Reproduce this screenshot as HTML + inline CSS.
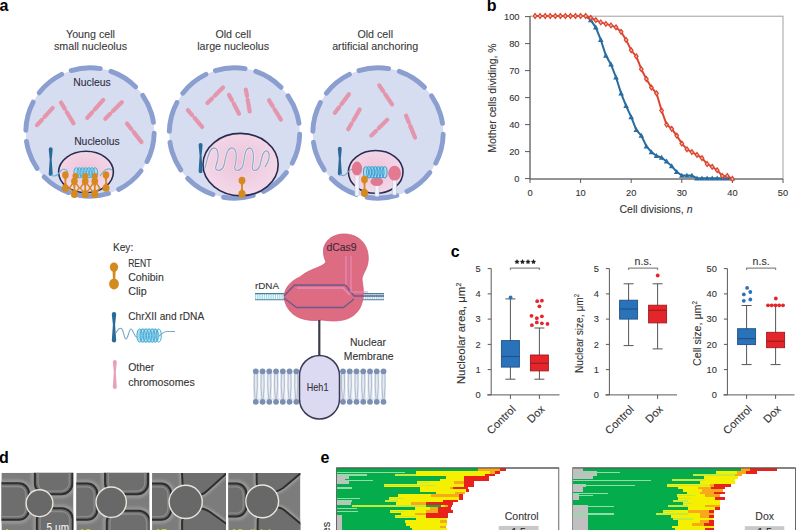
<!DOCTYPE html>
<html><head><meta charset="utf-8"><style>
html,body{margin:0;padding:0;background:#fff;width:800px;height:530px;overflow:hidden}
svg{display:block}
text{font-family:"Liberation Sans",sans-serif}
</style></head><body>
<svg width="800" height="530" viewBox="0 0 800 530">
<rect width="800" height="530" fill="#fff"/>
<text x="-0.6" y="10.6" font-size="16" fill="#000" text-anchor="start" font-weight="bold" >a</text>
<text x="486.8" y="10.6" font-size="16" fill="#000" text-anchor="start" font-weight="bold" >b</text>
<text x="450.8" y="256.9" font-size="16" fill="#000" text-anchor="start" font-weight="bold" >c</text>
<text x="-1" y="463.2" font-size="16" fill="#000" text-anchor="start" font-weight="bold" >d</text>
<text x="320.6" y="463.3" font-size="16" fill="#000" text-anchor="start" font-weight="bold" >e</text>
<defs><radialGradient id="nuc" cx="50%" cy="45%" r="55%"><stop offset="0" stop-color="#eec3da"/><stop offset="1" stop-color="#f3d9ea"/></radialGradient></defs>
<text x="90.5" y="37.5" font-size="10.7" fill="#3a3a3a" stroke="#3a3a3a" stroke-width="0.1" text-anchor="middle" font-weight="normal" >Young cell</text>
<text x="90.5" y="49.8" font-size="10.7" fill="#3a3a3a" stroke="#3a3a3a" stroke-width="0.1" text-anchor="middle" font-weight="normal" >small nucleolus</text>
<text x="233.2" y="37.5" font-size="10.7" fill="#3a3a3a" stroke="#3a3a3a" stroke-width="0.1" text-anchor="middle" font-weight="normal" >Old cell</text>
<text x="233.2" y="49.8" font-size="10.7" fill="#3a3a3a" stroke="#3a3a3a" stroke-width="0.1" text-anchor="middle" font-weight="normal" >large nucleolus</text>
<text x="375.2" y="37.5" font-size="10.7" fill="#3a3a3a" stroke="#3a3a3a" stroke-width="0.1" text-anchor="middle" font-weight="normal" >Old cell</text>
<text x="375.2" y="49.8" font-size="10.7" fill="#3a3a3a" stroke="#3a3a3a" stroke-width="0.1" text-anchor="middle" font-weight="normal" >artificial anchoring</text>
<circle cx="90" cy="132" r="64.2" fill="#d7ddf1"/>
<circle cx="90" cy="132" r="64.2" fill="none" stroke="#8a9ecf" stroke-width="4.9" stroke-linecap="round" stroke-dasharray="29.34 11.00" transform="rotate(-107 90 132)"/>
<circle cx="234.5" cy="133" r="65.2" fill="#d7ddf1"/>
<circle cx="234.5" cy="133" r="65.2" fill="none" stroke="#8a9ecf" stroke-width="4.9" stroke-linecap="round" stroke-dasharray="29.97 11.00" transform="rotate(-107 234.5 133)"/>
<circle cx="378" cy="133" r="65.2" fill="#d7ddf1"/>
<circle cx="378" cy="133" r="65.2" fill="none" stroke="#8a9ecf" stroke-width="4.9" stroke-linecap="round" stroke-dasharray="29.97 11.00" transform="rotate(-107 378 133)"/>
<path d="M2.1 -2.1 L9.813083128715594 -2.1 L11.013083128715593 -0.9450000000000001 L12.213083128715592 -2.1 L25.432707821788977 -2.1 A2.1 2.1 0 0 1 25.432707821788977 2.1 L12.213083128715592 2.1 L11.013083128715593 0.9450000000000001 L9.813083128715594 2.1 L2.1 2.1 A2.1 2.1 0 0 1 2.1 -2.1 Z" fill="#e496ac" transform="translate(35.6 126.7) rotate(-47.50)"/>
<path d="M2.1 -2.1 L10.194384581889448 -2.1 L11.394384581889447 -0.9450000000000001 L12.594384581889447 -2.1 L26.385961454723613 -2.1 A2.1 2.1 0 0 1 26.385961454723613 2.1 L12.594384581889447 2.1 L11.394384581889447 0.9450000000000001 L10.194384581889448 2.1 L2.1 2.1 A2.1 2.1 0 0 1 2.1 -2.1 Z" fill="#e496ac" transform="translate(59.9 100.7) rotate(58.93)"/>
<path d="M2.1 -2.1 L10.077588394687936 -2.1 L11.277588394687935 -0.9450000000000001 L12.477588394687935 -2.1 L26.093970986719835 -2.1 A2.1 2.1 0 0 1 26.093970986719835 2.1 L12.477588394687935 2.1 L11.277588394687935 0.9450000000000001 L10.077588394687936 2.1 L2.1 2.1 A2.1 2.1 0 0 1 2.1 -2.1 Z" fill="#e496ac" transform="translate(85.9 119.4) rotate(-48.45)"/>
<path d="M2.1 -2.1 L9.830865786510142 -2.1 L11.030865786510141 -0.9450000000000001 L12.23086578651014 -2.1 L25.47716446627535 -2.1 A2.1 2.1 0 0 1 25.47716446627535 2.1 L12.23086578651014 2.1 L11.030865786510141 0.9450000000000001 L9.830865786510142 2.1 L2.1 2.1 A2.1 2.1 0 0 1 2.1 -2.1 Z" fill="#e496ac" transform="translate(103.8 120.2) rotate(-45.00)"/>
<path d="M2.1 -2.1 L9.914099153777608 -2.1 L11.114099153777607 -0.9450000000000001 L12.314099153777606 -2.1 L25.685247884444014 -2.1 A2.1 2.1 0 0 1 25.685247884444014 2.1 L12.314099153777606 2.1 L11.114099153777607 0.9450000000000001 L9.914099153777608 2.1 L2.1 2.1 A2.1 2.1 0 0 1 2.1 -2.1 Z" fill="#e496ac" transform="translate(125.7 121.9) rotate(52.02)"/>
<text x="92" y="85.9" font-size="10.6" fill="#2e2e3e" stroke="#2e2e3e" stroke-width="0.1" text-anchor="middle" font-weight="normal"  textLength="37.5" lengthAdjust="spacingAndGlyphs">Nucleus</text>
<text x="96.9" y="144.7" font-size="10.6" fill="#2e2e3e" stroke="#2e2e3e" stroke-width="0.1" text-anchor="middle" font-weight="normal"  textLength="45.5" lengthAdjust="spacingAndGlyphs">Nucleolus</text>
<ellipse cx="86" cy="172" rx="27.4" ry="20.8" fill="url(#nuc)" stroke="#2b2b4f" stroke-width="1.6"/>
<path d="M48.7 149.3 Q48.7 147.3 50.7 147.3 Q52.7 147.3 52.7 149.3 L51.7 159.39600000000002 L52.7 174.1 Q52.7 176.1 50.7 176.1 Q48.7 176.1 48.7 174.1 L49.7 159.39600000000002 Z" fill="#2a6a98"/>
<path d="M50.7 175 Q55 178 60 172 Q64 166 68 172" fill="none" stroke="#6ab8dc" stroke-width="1.2"/>
<rect x="74" y="167.5" width="23" height="10.5" rx="4" fill="#a6def0"/>
<ellipse cx="76.5" cy="172.8" rx="2.5" ry="5" fill="none" stroke="#48a9d4" stroke-width="1"/>
<ellipse cx="79.6" cy="172.8" rx="2.5" ry="5" fill="none" stroke="#48a9d4" stroke-width="1"/>
<ellipse cx="82.7" cy="172.8" rx="2.5" ry="5" fill="none" stroke="#48a9d4" stroke-width="1"/>
<ellipse cx="85.8" cy="172.8" rx="2.5" ry="5" fill="none" stroke="#48a9d4" stroke-width="1"/>
<ellipse cx="88.9" cy="172.8" rx="2.5" ry="5" fill="none" stroke="#48a9d4" stroke-width="1"/>
<ellipse cx="92.0" cy="172.8" rx="2.5" ry="5" fill="none" stroke="#48a9d4" stroke-width="1"/>
<ellipse cx="95.1" cy="172.8" rx="2.5" ry="5" fill="none" stroke="#48a9d4" stroke-width="1"/>
<path d="M100 176 Q106 166 112 170" fill="none" stroke="#6ab8dc" stroke-width="1.2"/>
<path d="M74.4 181 L69.4 188 L74.4 194 L79.4 188 Z" fill="none" stroke="#d58a1f" stroke-width="1.4"/>
<path d="M72.80000000000001 181.2 L73.60000000000001 187.7 L72.80000000000001 194.2 L76.0 194.2 L75.2 187.7 L76.0 181.2 Z" fill="#d58a1f"/>
<ellipse cx="74.4" cy="181.2" rx="3.3" ry="3.63" fill="#d58a1f"/>
<ellipse cx="74.4" cy="194.2" rx="3.5" ry="3.85" fill="#d58a1f"/>
<path d="M85.2 181 L80.2 188 L85.2 194 L90.2 188 Z" fill="none" stroke="#d58a1f" stroke-width="1.4"/>
<path d="M83.60000000000001 181.2 L84.4 187.7 L83.60000000000001 194.2 L86.8 194.2 L86.0 187.7 L86.8 181.2 Z" fill="#d58a1f"/>
<ellipse cx="85.2" cy="181.2" rx="3.3" ry="3.63" fill="#d58a1f"/>
<ellipse cx="85.2" cy="194.2" rx="3.5" ry="3.85" fill="#d58a1f"/>
<path d="M94.8 181 L89.8 188 L94.8 194 L99.8 188 Z" fill="none" stroke="#d58a1f" stroke-width="1.4"/>
<path d="M93.2 181.2 L94.0 187.7 L93.2 194.2 L96.39999999999999 194.2 L95.6 187.7 L96.39999999999999 181.2 Z" fill="#d58a1f"/>
<ellipse cx="94.8" cy="181.2" rx="3.3" ry="3.63" fill="#d58a1f"/>
<ellipse cx="94.8" cy="194.2" rx="3.5" ry="3.85" fill="#d58a1f"/>
<path d="M63.800000000000004 175 L64.60000000000001 181.5 L63.800000000000004 188 L67.0 188 L66.2 181.5 L67.0 175 Z" fill="#d58a1f"/>
<ellipse cx="65.4" cy="175" rx="3.3" ry="3.63" fill="#d58a1f"/>
<ellipse cx="65.4" cy="188" rx="3.5" ry="3.85" fill="#d58a1f"/>
<path d="M104.4 175 L105.2 181.5 L104.4 188 L107.6 188 L106.8 181.5 L107.6 175 Z" fill="#d58a1f"/>
<ellipse cx="106" cy="175" rx="3.3" ry="3.63" fill="#d58a1f"/>
<ellipse cx="106" cy="188" rx="3.5" ry="3.85" fill="#d58a1f"/>
<circle cx="75.5" cy="176" r="3" fill="#d58a1f"/>
<circle cx="85.2" cy="176" r="3" fill="#d58a1f"/>
<circle cx="94.8" cy="176" r="3" fill="#d58a1f"/>
<path d="M2.1 -2.1 L9.299523798725351 -2.1 L10.49952379872535 -0.9450000000000001 L11.69952379872535 -2.1 L24.148809496813374 -2.1 A2.1 2.1 0 0 1 24.148809496813374 2.1 L11.69952379872535 2.1 L10.49952379872535 0.9450000000000001 L9.299523798725351 2.1 L2.1 2.1 A2.1 2.1 0 0 1 2.1 -2.1 Z" fill="#e496ac" transform="translate(186.5 108.5) rotate(49.64)"/>
<path d="M2.1 -2.1 L9.265180361560905 -2.1 L10.465180361560904 -0.9450000000000001 L11.665180361560903 -2.1 L24.06295090390226 -2.1 A2.1 2.1 0 0 1 24.06295090390226 2.1 L11.665180361560903 2.1 L10.465180361560904 0.9450000000000001 L9.265180361560905 2.1 L2.1 2.1 A2.1 2.1 0 0 1 2.1 -2.1 Z" fill="#e496ac" transform="translate(206 104.5) rotate(-45.00)"/>
<path d="M2.1 -2.1 L9.000000000000002 -2.1 L10.200000000000001 -0.9450000000000001 L11.4 -2.1 L23.4 -2.1 A2.1 2.1 0 0 1 23.4 2.1 L11.4 2.1 L10.200000000000001 0.9450000000000001 L9.000000000000002 2.1 L2.1 2.1 A2.1 2.1 0 0 1 2.1 -2.1 Z" fill="#e496ac" transform="translate(228 93) rotate(61.93)"/>
<path d="M2.1 -2.1 L9.354619841567011 -2.1 L10.55461984156701 -0.9450000000000001 L11.75461984156701 -2.1 L24.28654960391752 -2.1 A2.1 2.1 0 0 1 24.28654960391752 2.1 L11.75461984156701 2.1 L10.55461984156701 0.9450000000000001 L9.354619841567011 2.1 L2.1 2.1 A2.1 2.1 0 0 1 2.1 -2.1 Z" fill="#e496ac" transform="translate(245.5 87.5) rotate(80.18)"/>
<path d="M2.1 -2.1 L9.57032961426901 -2.1 L10.77032961426901 -0.9450000000000001 L11.970329614269009 -2.1 L24.825824035672518 -2.1 A2.1 2.1 0 0 1 24.825824035672518 2.1 L11.970329614269009 2.1 L10.77032961426901 0.9450000000000001 L9.57032961426901 2.1 L2.1 2.1 A2.1 2.1 0 0 1 2.1 -2.1 Z" fill="#e496ac" transform="translate(268 98.5) rotate(58.67)"/>
<ellipse cx="240.6" cy="164.6" rx="37.6" ry="31.2" fill="url(#nuc)" stroke="#2b2b4f" stroke-width="1.6"/>
<path d="M198.6 145.0 Q198.6 143 200.6 143 Q202.6 143 202.6 145.0 L201.6 155.726 L202.6 171.3 Q202.6 173.3 200.6 173.3 Q198.6 173.3 198.6 171.3 L199.6 155.726 Z" fill="#2a6a98"/>
<path d="M205 168 C207 160, 209 148, 214 148 C219 148, 219 158, 216 166 C214 172, 222 172, 224 165 C226 156, 227 148, 232 148 C237 148, 237 158, 235 166 C233 172, 241 172, 243 165 C245 156, 245 148, 249.5 148 C254 148, 254 158, 252.5 166 C251 172, 258 172, 260 165 C262 157, 263 150, 267 151 C271 153, 269 162, 265 167" fill="none" stroke="#f6eef6" stroke-width="2.4"/>
<path d="M205 168 C207 160, 209 148, 214 148 C219 148, 219 158, 216 166 C214 172, 222 172, 224 165 C226 156, 227 148, 232 148 C237 148, 237 158, 235 166 C233 172, 241 172, 243 165 C245 156, 245 148, 249.5 148 C254 148, 254 158, 252.5 166 C251 172, 258 172, 260 165 C262 157, 263 150, 267 151 C271 153, 269 162, 265 167" fill="none" stroke="#95a8c8" stroke-width="1.3"/>
<path d="M240.4 180.5 L241.2 187.25 L240.4 194 L243.6 194 L242.8 187.25 L243.6 180.5 Z" fill="#d58a1f"/>
<ellipse cx="242" cy="180.5" rx="3.4" ry="3.74" fill="#d58a1f"/>
<ellipse cx="242" cy="194" rx="3.6" ry="3.96" fill="#d58a1f"/>
<path d="M2.1 -2.1 L9.792142648273806 -2.1 L10.992142648273806 -0.9450000000000001 L12.192142648273805 -2.1 L25.380356620684513 -2.1 A2.1 2.1 0 0 1 25.380356620684513 2.1 L12.192142648273805 2.1 L10.992142648273806 0.9450000000000001 L9.792142648273806 2.1 L2.1 2.1 A2.1 2.1 0 0 1 2.1 -2.1 Z" fill="#e496ac" transform="translate(333.6 114.5) rotate(-52.84)"/>
<path d="M2.1 -2.1 L9.605998334258615 -2.1 L10.805998334258614 -0.9450000000000001 L12.005998334258614 -2.1 L24.914995835646533 -2.1 A2.1 2.1 0 0 1 24.914995835646533 2.1 L12.005998334258614 2.1 L10.805998334258614 0.9450000000000001 L9.605998334258615 2.1 L2.1 2.1 A2.1 2.1 0 0 1 2.1 -2.1 Z" fill="#e496ac" transform="translate(347.2 131.1) rotate(-60.02)"/>
<path d="M2.1 -2.1 L9.672129506219097 -2.1 L10.872129506219096 -0.9450000000000001 L12.072129506219095 -2.1 L25.08032376554774 -2.1 A2.1 2.1 0 0 1 25.08032376554774 2.1 L12.072129506219095 2.1 L10.872129506219096 0.9450000000000001 L9.672129506219097 2.1 L2.1 2.1 A2.1 2.1 0 0 1 2.1 -2.1 Z" fill="#e496ac" transform="translate(378.1 83.6) rotate(56.25)"/>
<path d="M2.1 -2.1 L9.463207772523232 -2.1 L10.663207772523231 -0.9450000000000001 L11.86320777252323 -2.1 L24.558019431308075 -2.1 A2.1 2.1 0 0 1 24.558019431308075 2.1 L11.86320777252323 2.1 L10.663207772523231 0.9450000000000001 L9.463207772523232 2.1 L2.1 2.1 A2.1 2.1 0 0 1 2.1 -2.1 Z" fill="#e496ac" transform="translate(369.8 137.1) rotate(-44.85)"/>
<path d="M2.1 -2.1 L9.867863389109937 -2.1 L11.067863389109936 -0.9450000000000001 L12.267863389109936 -2.1 L25.569658472774837 -2.1 A2.1 2.1 0 0 1 25.569658472774837 2.1 L12.267863389109936 2.1 L11.067863389109936 0.9450000000000001 L9.867863389109937 2.1 L2.1 2.1 A2.1 2.1 0 0 1 2.1 -2.1 Z" fill="#e496ac" transform="translate(405.3 113.8) rotate(67.70)"/>
<ellipse cx="375.7" cy="171.9" rx="27.3" ry="21.4" fill="url(#nuc)" stroke="#2b2b4f" stroke-width="1.6"/>
<path d="M337.8 148.7 Q337.8 146.7 339.8 146.7 Q341.8 146.7 341.8 148.7 L340.8 158.838 L341.8 173.6 Q341.8 175.6 339.8 175.6 Q337.8 175.6 337.8 173.6 L338.8 158.838 Z" fill="#2a6a98"/>
<path d="M340 174 Q344 178 348 172 Q352 166 358 174" fill="none" stroke="#78a8c4" stroke-width="1.1"/>
<rect x="355" y="174" width="4" height="22" rx="1.2" fill="#f2f2fa" stroke="#c0c6dc" stroke-width="0.6"/>
<rect x="375" y="184" width="4" height="12.5" rx="1.2" fill="#f2f2fa" stroke="#c0c6dc" stroke-width="0.6"/>
<rect x="392.5" y="178" width="4" height="17" rx="1.2" fill="#f2f2fa" stroke="#c0c6dc" stroke-width="0.6"/>
<ellipse cx="357" cy="168.6" rx="5.2" ry="7" fill="#e07890"/>
<ellipse cx="394.6" cy="173.2" rx="6.4" ry="7.4" fill="#e27a92"/>
<ellipse cx="376.8" cy="181.8" rx="6.4" ry="4.2" fill="#e07890"/>
<rect x="363.5" y="166.5" width="23" height="11.5" rx="4.5" fill="#a6def0"/>
<ellipse cx="366.0" cy="172.3" rx="2.5" ry="5.6" fill="none" stroke="#3e9fd2" stroke-width="1.05"/>
<ellipse cx="369.1" cy="172.3" rx="2.5" ry="5.6" fill="none" stroke="#3e9fd2" stroke-width="1.05"/>
<ellipse cx="372.2" cy="172.3" rx="2.5" ry="5.6" fill="none" stroke="#3e9fd2" stroke-width="1.05"/>
<ellipse cx="375.3" cy="172.3" rx="2.5" ry="5.6" fill="none" stroke="#3e9fd2" stroke-width="1.05"/>
<ellipse cx="378.4" cy="172.3" rx="2.5" ry="5.6" fill="none" stroke="#3e9fd2" stroke-width="1.05"/>
<ellipse cx="381.5" cy="172.3" rx="2.5" ry="5.6" fill="none" stroke="#3e9fd2" stroke-width="1.05"/>
<ellipse cx="384.6" cy="172.3" rx="2.5" ry="5.6" fill="none" stroke="#3e9fd2" stroke-width="1.05"/>
<path d="M362.9 179.5 L363.7 186.25 L362.9 193 L366.1 193 L365.3 186.25 L366.1 179.5 Z" fill="#d58a1f"/>
<ellipse cx="364.5" cy="179.5" rx="3.4" ry="3.74" fill="#d58a1f"/>
<ellipse cx="364.5" cy="193" rx="3.6" ry="3.96" fill="#d58a1f"/>
<text x="112.9" y="251" font-size="10.2" fill="#333" stroke="#333" stroke-width="0.1" text-anchor="start" font-weight="normal" >Key:</text>
<path d="M112.6 271 L112.9 279 L115.3 279 L115.6 271 Z" fill="#d58a1f"/>
<ellipse cx="114" cy="267.2" rx="4.1" ry="4.8" fill="#d58a1f"/>
<ellipse cx="114" cy="283.9" rx="4.9" ry="5.5" fill="#d58a1f"/>
<text x="128.2" y="267.1" font-size="10.2" fill="#333" stroke="#333" stroke-width="0.1" text-anchor="start" font-weight="normal"  textLength="23.3" lengthAdjust="spacingAndGlyphs">RENT</text>
<text x="128.2" y="280.8" font-size="10.2" fill="#333" stroke="#333" stroke-width="0.1" text-anchor="start" font-weight="normal"  textLength="35.6" lengthAdjust="spacingAndGlyphs">Cohibin</text>
<text x="128.2" y="294.5" font-size="10.2" fill="#333" stroke="#333" stroke-width="0.1" text-anchor="start" font-weight="normal"  textLength="18.4" lengthAdjust="spacingAndGlyphs">Clip</text>
<text x="128.2" y="319.5" font-size="10.2" fill="#333" stroke="#333" stroke-width="0.1" text-anchor="start" font-weight="normal"  textLength="76" lengthAdjust="spacingAndGlyphs">ChrXII and rDNA</text>
<path d="M111.8 314.2 Q111.8 312 114 312 Q116.2 312 116.2 314.2 L115.1 324.81 L116.2 340.3 Q116.2 342.5 114 342.5 Q111.8 342.5 111.8 340.3 L112.9 324.81 Z" fill="#2a6a98"/>
<path d="M116 333 C118 329, 120 327, 122 329 C124 332, 124 339, 126 339 C128 339, 129 329, 131 329 C133 329, 134 337, 137 337" fill="none" stroke="#78a8c4" stroke-width="1.1"/>
<rect x="137" y="328.5" width="22.5" height="14" rx="5" fill="#a6def0"/>
<ellipse cx="139.5" cy="335.6" rx="2.6" ry="6.6" fill="none" stroke="#48a9d4" stroke-width="1"/>
<ellipse cx="142.7" cy="335.6" rx="2.6" ry="6.6" fill="none" stroke="#48a9d4" stroke-width="1"/>
<ellipse cx="145.9" cy="335.6" rx="2.6" ry="6.6" fill="none" stroke="#48a9d4" stroke-width="1"/>
<ellipse cx="149.1" cy="335.6" rx="2.6" ry="6.6" fill="none" stroke="#48a9d4" stroke-width="1"/>
<ellipse cx="152.3" cy="335.6" rx="2.6" ry="6.6" fill="none" stroke="#48a9d4" stroke-width="1"/>
<ellipse cx="155.5" cy="335.6" rx="2.6" ry="6.6" fill="none" stroke="#48a9d4" stroke-width="1"/>
<ellipse cx="158.7" cy="335.6" rx="2.6" ry="6.6" fill="none" stroke="#48a9d4" stroke-width="1"/>
<path d="M159 336 C162 334, 163 331.5, 167 331.5 L175 331.5" fill="none" stroke="#78a8c4" stroke-width="1.1"/>
<path d="M112.8 362.0 Q112.8 360 114.8 360 Q116.8 360 116.8 362.0 L115.8 372.18 L116.8 387.0 Q116.8 389 114.8 389 Q112.8 389 112.8 387.0 L113.8 372.18 Z" fill="#e8a2b7"/>
<text x="128.2" y="371.4" font-size="10.2" fill="#333" stroke="#333" stroke-width="0.1" text-anchor="start" font-weight="normal"  textLength="26" lengthAdjust="spacingAndGlyphs">Other</text>
<text x="128.2" y="385.5" font-size="10.2" fill="#333" stroke="#333" stroke-width="0.1" text-anchor="start" font-weight="normal"  textLength="66.5" lengthAdjust="spacingAndGlyphs">chromosomes</text>
<line x1="255" y1="296.7" x2="384" y2="296.7" stroke="#a2dbea" stroke-width="5.5" stroke-dasharray="1.3 0.9"/>
<line x1="255" y1="293.6" x2="384" y2="293.6" stroke="#4d7f92" stroke-width="1.1"/>
<line x1="255" y1="299.8" x2="384" y2="299.8" stroke="#4d7f92" stroke-width="1.1"/>
<text x="255" y="289" font-size="9.8" fill="#333" stroke="#333" stroke-width="0.1" text-anchor="start" font-weight="normal" >rDNA</text>
<path d="M300 277 C310 268, 322 268, 326 262 C318 245, 330 234, 344 234 C360 234, 370 246, 368 262 C367 270, 362 274, 362 280 C364 290, 364 300, 360 308 C352 322, 336 322, 322 320 C306 322, 290 318, 285 302 C282 292, 288 282, 300 277 Z" fill="#dd6b82" stroke="#d15c76" stroke-width="0.8"/>
<path d="M284 296 L294.5 285 L345.5 285 L354 296 L384 296" fill="none" stroke="#6c5a8c" stroke-width="1.4"/>
<path d="M297 288 L343 288 L350 295" fill="none" stroke="#e58fc0" stroke-width="1.4"/>
<path d="M284 298 L296.5 307.5 L343.5 307.5 L354 299" fill="none" stroke="#6c5a8c" stroke-width="1.4"/>
<path d="M346 256 L346 285 M351 256 L351 292 L368 292" fill="none" stroke="#e58fc0" stroke-width="1.1"/>
<text x="341.4" y="251" font-size="10.4" fill="#3b2a36" stroke="#3b2a36" stroke-width="0.1" text-anchor="middle" font-weight="normal" >dCas9</text>
<line x1="319.3" y1="320" x2="319.3" y2="356" stroke="#3b3b4a" stroke-width="2.2"/>
<rect x="253" y="373" width="46" height="27" fill="#e4eaf2"/>
<rect x="340" y="373" width="46" height="27" fill="#e4eaf2"/>
<path d="M254.5 373 L254.20000000000002 386 L255.20000000000002 399 M257.1 373 L257.40000000000003 386 L256.40000000000003 399" fill="none" stroke="#aab6c8" stroke-width="0.9"/>
<line x1="259.2" y1="374" x2="259.2" y2="398" stroke="#ffffff" stroke-width="1.2"/>
<circle cx="255.8" cy="371.3" r="2.9" fill="#7a8fb1"/>
<circle cx="255.8" cy="401.8" r="2.9" fill="#7a8fb1"/>
<path d="M261.25 373 L260.95 386 L261.95 399 M263.85 373 L264.15000000000003 386 L263.15000000000003 399" fill="none" stroke="#aab6c8" stroke-width="0.9"/>
<line x1="265.95" y1="374" x2="265.95" y2="398" stroke="#ffffff" stroke-width="1.2"/>
<circle cx="262.55" cy="371.3" r="2.9" fill="#7a8fb1"/>
<circle cx="262.55" cy="401.8" r="2.9" fill="#7a8fb1"/>
<path d="M268.0 373 L267.7 386 L268.7 399 M270.6 373 L270.90000000000003 386 L269.90000000000003 399" fill="none" stroke="#aab6c8" stroke-width="0.9"/>
<line x1="272.7" y1="374" x2="272.7" y2="398" stroke="#ffffff" stroke-width="1.2"/>
<circle cx="269.3" cy="371.3" r="2.9" fill="#7a8fb1"/>
<circle cx="269.3" cy="401.8" r="2.9" fill="#7a8fb1"/>
<path d="M274.75 373 L274.45 386 L275.45 399 M277.35 373 L277.65000000000003 386 L276.65000000000003 399" fill="none" stroke="#aab6c8" stroke-width="0.9"/>
<line x1="279.45" y1="374" x2="279.45" y2="398" stroke="#ffffff" stroke-width="1.2"/>
<circle cx="276.05" cy="371.3" r="2.9" fill="#7a8fb1"/>
<circle cx="276.05" cy="401.8" r="2.9" fill="#7a8fb1"/>
<path d="M281.5 373 L281.2 386 L282.2 399 M284.1 373 L284.40000000000003 386 L283.40000000000003 399" fill="none" stroke="#aab6c8" stroke-width="0.9"/>
<line x1="286.2" y1="374" x2="286.2" y2="398" stroke="#ffffff" stroke-width="1.2"/>
<circle cx="282.8" cy="371.3" r="2.9" fill="#7a8fb1"/>
<circle cx="282.8" cy="401.8" r="2.9" fill="#7a8fb1"/>
<path d="M288.25 373 L287.95 386 L288.95 399 M290.85 373 L291.15000000000003 386 L290.15000000000003 399" fill="none" stroke="#aab6c8" stroke-width="0.9"/>
<line x1="292.95" y1="374" x2="292.95" y2="398" stroke="#ffffff" stroke-width="1.2"/>
<circle cx="289.55" cy="371.3" r="2.9" fill="#7a8fb1"/>
<circle cx="289.55" cy="401.8" r="2.9" fill="#7a8fb1"/>
<path d="M295.0 373 L294.7 386 L295.7 399 M297.6 373 L297.90000000000003 386 L296.90000000000003 399" fill="none" stroke="#aab6c8" stroke-width="0.9"/>
<line x1="299.7" y1="374" x2="299.7" y2="398" stroke="#ffffff" stroke-width="1.2"/>
<circle cx="296.3" cy="371.3" r="2.9" fill="#7a8fb1"/>
<circle cx="296.3" cy="401.8" r="2.9" fill="#7a8fb1"/>
<path d="M341.7 373 L341.4 386 L342.4 399 M344.3 373 L344.6 386 L343.6 399" fill="none" stroke="#aab6c8" stroke-width="0.9"/>
<line x1="346.4" y1="374" x2="346.4" y2="398" stroke="#ffffff" stroke-width="1.2"/>
<circle cx="343.0" cy="371.3" r="2.9" fill="#7a8fb1"/>
<circle cx="343.0" cy="401.8" r="2.9" fill="#7a8fb1"/>
<path d="M348.45 373 L348.15 386 L349.15 399 M351.05 373 L351.35 386 L350.35 399" fill="none" stroke="#aab6c8" stroke-width="0.9"/>
<line x1="353.15" y1="374" x2="353.15" y2="398" stroke="#ffffff" stroke-width="1.2"/>
<circle cx="349.75" cy="371.3" r="2.9" fill="#7a8fb1"/>
<circle cx="349.75" cy="401.8" r="2.9" fill="#7a8fb1"/>
<path d="M355.2 373 L354.9 386 L355.9 399 M357.8 373 L358.1 386 L357.1 399" fill="none" stroke="#aab6c8" stroke-width="0.9"/>
<line x1="359.9" y1="374" x2="359.9" y2="398" stroke="#ffffff" stroke-width="1.2"/>
<circle cx="356.5" cy="371.3" r="2.9" fill="#7a8fb1"/>
<circle cx="356.5" cy="401.8" r="2.9" fill="#7a8fb1"/>
<path d="M361.95 373 L361.65 386 L362.65 399 M364.55 373 L364.85 386 L363.85 399" fill="none" stroke="#aab6c8" stroke-width="0.9"/>
<line x1="366.65" y1="374" x2="366.65" y2="398" stroke="#ffffff" stroke-width="1.2"/>
<circle cx="363.25" cy="371.3" r="2.9" fill="#7a8fb1"/>
<circle cx="363.25" cy="401.8" r="2.9" fill="#7a8fb1"/>
<path d="M368.7 373 L368.4 386 L369.4 399 M371.3 373 L371.6 386 L370.6 399" fill="none" stroke="#aab6c8" stroke-width="0.9"/>
<line x1="373.4" y1="374" x2="373.4" y2="398" stroke="#ffffff" stroke-width="1.2"/>
<circle cx="370.0" cy="371.3" r="2.9" fill="#7a8fb1"/>
<circle cx="370.0" cy="401.8" r="2.9" fill="#7a8fb1"/>
<path d="M375.45 373 L375.15 386 L376.15 399 M378.05 373 L378.35 386 L377.35 399" fill="none" stroke="#aab6c8" stroke-width="0.9"/>
<line x1="380.15" y1="374" x2="380.15" y2="398" stroke="#ffffff" stroke-width="1.2"/>
<circle cx="376.75" cy="371.3" r="2.9" fill="#7a8fb1"/>
<circle cx="376.75" cy="401.8" r="2.9" fill="#7a8fb1"/>
<path d="M382.2 373 L381.9 386 L382.9 399 M384.8 373 L385.1 386 L384.1 399" fill="none" stroke="#aab6c8" stroke-width="0.9"/>
<line x1="386.9" y1="374" x2="386.9" y2="398" stroke="#ffffff" stroke-width="1.2"/>
<circle cx="383.5" cy="371.3" r="2.9" fill="#7a8fb1"/>
<circle cx="383.5" cy="401.8" r="2.9" fill="#7a8fb1"/>
<rect x="299.5" y="355.5" width="40" height="63.5" rx="20" ry="20" fill="#dcdaf3" stroke="#3a3a55" stroke-width="1.5"/>
<text x="317.6" y="390.5" font-size="10.4" fill="#333" stroke="#333" stroke-width="0.1" text-anchor="middle" font-weight="normal"  textLength="21.7" lengthAdjust="spacingAndGlyphs">Heh1</text>
<text x="368" y="346.2" font-size="10.4" fill="#333" stroke="#333" stroke-width="0.1" text-anchor="middle" font-weight="normal" >Nuclear</text>
<text x="368.7" y="360.2" font-size="10.4" fill="#333" stroke="#333" stroke-width="0.1" text-anchor="middle" font-weight="normal" >Membrane</text>
<rect x="530" y="16.2" width="252.99999999999997" height="162.8" fill="none" stroke="#a0a0a0" stroke-width="1"/>
<line x1="530" y1="16" x2="530" y2="179" stroke="#5a5a5a" stroke-width="1"/>
<line x1="530" y1="179" x2="783" y2="179" stroke="#5a5a5a" stroke-width="1"/>
<line x1="525" y1="16.6" x2="530" y2="16.6" stroke="#5a5a5a" stroke-width="1"/>
<text x="519.5" y="19.900000000000002" font-size="9.3" fill="#333" stroke="#333" stroke-width="0.1" text-anchor="end" font-weight="normal" >100</text>
<line x1="525" y1="43.6" x2="530" y2="43.6" stroke="#5a5a5a" stroke-width="1"/>
<text x="519.5" y="46.9" font-size="9.3" fill="#333" stroke="#333" stroke-width="0.1" text-anchor="end" font-weight="normal" >80</text>
<line x1="525" y1="70.6" x2="530" y2="70.6" stroke="#5a5a5a" stroke-width="1"/>
<text x="519.5" y="73.89999999999999" font-size="9.3" fill="#333" stroke="#333" stroke-width="0.1" text-anchor="end" font-weight="normal" >70</text>
<line x1="525" y1="97.6" x2="530" y2="97.6" stroke="#5a5a5a" stroke-width="1"/>
<text x="519.5" y="100.89999999999999" font-size="9.3" fill="#333" stroke="#333" stroke-width="0.1" text-anchor="end" font-weight="normal" >60</text>
<line x1="525" y1="124.6" x2="530" y2="124.6" stroke="#5a5a5a" stroke-width="1"/>
<text x="519.5" y="127.89999999999999" font-size="9.3" fill="#333" stroke="#333" stroke-width="0.1" text-anchor="end" font-weight="normal" >40</text>
<line x1="525" y1="151.6" x2="530" y2="151.6" stroke="#5a5a5a" stroke-width="1"/>
<text x="519.5" y="154.9" font-size="9.3" fill="#333" stroke="#333" stroke-width="0.1" text-anchor="end" font-weight="normal" >20</text>
<line x1="525" y1="178.6" x2="530" y2="178.6" stroke="#5a5a5a" stroke-width="1"/>
<text x="519.5" y="181.9" font-size="9.3" fill="#333" stroke="#333" stroke-width="0.1" text-anchor="end" font-weight="normal" >0</text>
<line x1="530.0" y1="179" x2="530.0" y2="183" stroke="#5a5a5a" stroke-width="1"/>
<text x="530.0" y="196.3" font-size="9.3" fill="#333" stroke="#333" stroke-width="0.1" text-anchor="middle" font-weight="normal" >0</text>
<line x1="580.6" y1="179" x2="580.6" y2="183" stroke="#5a5a5a" stroke-width="1"/>
<text x="580.6" y="196.3" font-size="9.3" fill="#333" stroke="#333" stroke-width="0.1" text-anchor="middle" font-weight="normal" >10</text>
<line x1="631.2" y1="179" x2="631.2" y2="183" stroke="#5a5a5a" stroke-width="1"/>
<text x="631.2" y="196.3" font-size="9.3" fill="#333" stroke="#333" stroke-width="0.1" text-anchor="middle" font-weight="normal" >20</text>
<line x1="681.8" y1="179" x2="681.8" y2="183" stroke="#5a5a5a" stroke-width="1"/>
<text x="681.8" y="196.3" font-size="9.3" fill="#333" stroke="#333" stroke-width="0.1" text-anchor="middle" font-weight="normal" >30</text>
<line x1="732.4" y1="179" x2="732.4" y2="183" stroke="#5a5a5a" stroke-width="1"/>
<text x="732.4" y="196.3" font-size="9.3" fill="#333" stroke="#333" stroke-width="0.1" text-anchor="middle" font-weight="normal" >40</text>
<line x1="783.0" y1="179" x2="783.0" y2="183" stroke="#5a5a5a" stroke-width="1"/>
<text x="783.0" y="196.3" font-size="9.3" fill="#333" stroke="#333" stroke-width="0.1" text-anchor="middle" font-weight="normal" >50</text>
<text x="656" y="212.8" font-size="10.5" fill="#333" stroke="#333" stroke-width="0.1" text-anchor="middle" font-weight="normal" >Cell divisions, <tspan font-style="italic">n</tspan></text>
<text x="0" y="0" font-size="10.4" fill="#333" stroke="#333" stroke-width="0.1" text-anchor="middle" font-weight="normal" transform="translate(495.5 98) rotate(-90)">Mother cells dividing, %</text>
<polyline points="535.1,16 540.1,16 545.2,16 550.2,16 555.3,16 560.4,16 565.4,16 570.5,16 575.5,16 580.6,16 585.7,16 590.7,20.1 595.8,27.3 600.8,39.9 605.9,55.6 611.0,64.4 616.0,77.3 621.1,93.4 626.1,105.8 631.2,117 636.3,129.9 641.3,135.6 646.4,146.3 651.4,152 656.5,155.8 661.6,157.6 666.6,161.4 671.7,166.1 676.7,171.8 681.8,175.5 686.9,175.5 691.9,175.5 697.0,178.3 702.0,178.3 707.1,178.3 712.2,178.3 717.2,178.3 722.3,178.3 727.3,178.3 732.4,178.3" fill="none" stroke="#2a6c9f" stroke-width="2"/>
<path d="M587.9 22.3 L590.7 17.3 L593.5 22.3 Z" fill="#2a6c9f"/>
<path d="M593.0 29.5 L595.8 24.5 L598.6 29.5 Z" fill="#2a6c9f"/>
<path d="M598.0 42.1 L600.8 37.1 L603.6 42.1 Z" fill="#2a6c9f"/>
<path d="M603.1 57.8 L605.9 52.8 L608.7 57.8 Z" fill="#2a6c9f"/>
<path d="M608.2 66.6 L611.0 61.6 L613.8 66.6 Z" fill="#2a6c9f"/>
<path d="M613.2 79.5 L616.0 74.5 L618.8 79.5 Z" fill="#2a6c9f"/>
<path d="M618.3 95.6 L621.1 90.6 L623.9 95.6 Z" fill="#2a6c9f"/>
<path d="M623.3 108.0 L626.1 103.0 L628.9 108.0 Z" fill="#2a6c9f"/>
<path d="M628.4 119.2 L631.2 114.2 L634.0 119.2 Z" fill="#2a6c9f"/>
<path d="M633.5 132.1 L636.3 127.1 L639.1 132.1 Z" fill="#2a6c9f"/>
<path d="M638.5 137.8 L641.3 132.8 L644.1 137.8 Z" fill="#2a6c9f"/>
<path d="M643.6 148.5 L646.4 143.5 L649.2 148.5 Z" fill="#2a6c9f"/>
<path d="M648.6 154.2 L651.4 149.2 L654.2 154.2 Z" fill="#2a6c9f"/>
<path d="M653.7 158.0 L656.5 153.0 L659.3 158.0 Z" fill="#2a6c9f"/>
<path d="M658.8 159.8 L661.6 154.8 L664.4 159.8 Z" fill="#2a6c9f"/>
<path d="M663.8 163.6 L666.6 158.6 L669.4 163.6 Z" fill="#2a6c9f"/>
<path d="M668.9 168.3 L671.7 163.3 L674.5 168.3 Z" fill="#2a6c9f"/>
<path d="M673.9 174.0 L676.7 169.0 L679.5 174.0 Z" fill="#2a6c9f"/>
<path d="M679.0 177.7 L681.8 172.7 L684.6 177.7 Z" fill="#2a6c9f"/>
<path d="M684.1 177.7 L686.9 172.7 L689.7 177.7 Z" fill="#2a6c9f"/>
<path d="M689.1 177.7 L691.9 172.7 L694.7 177.7 Z" fill="#2a6c9f"/>
<path d="M694.2 180.5 L697.0 175.5 L699.8 180.5 Z" fill="#2a6c9f"/>
<path d="M699.2 180.5 L702.0 175.5 L704.8 180.5 Z" fill="#2a6c9f"/>
<path d="M704.3 180.5 L707.1 175.5 L709.9 180.5 Z" fill="#2a6c9f"/>
<path d="M709.4 180.5 L712.2 175.5 L715.0 180.5 Z" fill="#2a6c9f"/>
<path d="M714.4 180.5 L717.2 175.5 L720.0 180.5 Z" fill="#2a6c9f"/>
<path d="M719.5 180.5 L722.3 175.5 L725.1 180.5 Z" fill="#2a6c9f"/>
<path d="M724.5 180.5 L727.3 175.5 L730.1 180.5 Z" fill="#2a6c9f"/>
<path d="M729.6 180.5 L732.4 175.5 L735.2 180.5 Z" fill="#2a6c9f"/>
<polyline points="535.1,16 540.1,16 545.2,16 550.2,16 555.3,16 560.4,16 565.4,16 570.5,16 575.5,16 580.6,16 585.7,16 590.7,17.8 595.8,20.1 600.8,22.4 605.9,23.9 611.0,25.4 616.0,27.3 621.1,31.8 626.1,39.9 631.2,50.3 636.3,56.3 641.3,69.2 646.4,79 651.4,87.5 656.5,93.3 661.6,110.5 666.6,124.6 671.7,128.8 676.7,135.6 681.8,143.5 686.9,149.3 691.9,152.1 697.0,154.9 702.0,158.1 707.1,164 712.2,166.8 717.2,170.2 722.3,175.9 727.3,175.9 732.4,179" fill="none" stroke="#dc4630" stroke-width="2"/>
<path d="M535.1 13.6 L536.9 16.0 L535.1 18.4 L533.3 16.0 Z" fill="#f4b8a8" stroke="#dc4630" stroke-width="1.2"/>
<path d="M540.1 13.6 L541.9 16.0 L540.1 18.4 L538.3 16.0 Z" fill="#f4b8a8" stroke="#dc4630" stroke-width="1.2"/>
<path d="M545.2 13.6 L547.0 16.0 L545.2 18.4 L543.4 16.0 Z" fill="#f4b8a8" stroke="#dc4630" stroke-width="1.2"/>
<path d="M550.2 13.6 L552.0 16.0 L550.2 18.4 L548.4 16.0 Z" fill="#f4b8a8" stroke="#dc4630" stroke-width="1.2"/>
<path d="M555.3 13.6 L557.1 16.0 L555.3 18.4 L553.5 16.0 Z" fill="#f4b8a8" stroke="#dc4630" stroke-width="1.2"/>
<path d="M560.4 13.6 L562.2 16.0 L560.4 18.4 L558.6 16.0 Z" fill="#f4b8a8" stroke="#dc4630" stroke-width="1.2"/>
<path d="M565.4 13.6 L567.2 16.0 L565.4 18.4 L563.6 16.0 Z" fill="#f4b8a8" stroke="#dc4630" stroke-width="1.2"/>
<path d="M570.5 13.6 L572.3 16.0 L570.5 18.4 L568.7 16.0 Z" fill="#f4b8a8" stroke="#dc4630" stroke-width="1.2"/>
<path d="M575.5 13.6 L577.3 16.0 L575.5 18.4 L573.7 16.0 Z" fill="#f4b8a8" stroke="#dc4630" stroke-width="1.2"/>
<path d="M580.6 13.6 L582.4 16.0 L580.6 18.4 L578.8 16.0 Z" fill="#f4b8a8" stroke="#dc4630" stroke-width="1.2"/>
<path d="M585.7 13.6 L587.5 16.0 L585.7 18.4 L583.9 16.0 Z" fill="#f4b8a8" stroke="#dc4630" stroke-width="1.2"/>
<path d="M590.7 15.4 L592.5 17.8 L590.7 20.2 L588.9 17.8 Z" fill="#f4b8a8" stroke="#dc4630" stroke-width="1.2"/>
<path d="M595.8 17.7 L597.6 20.1 L595.8 22.5 L594.0 20.1 Z" fill="#f4b8a8" stroke="#dc4630" stroke-width="1.2"/>
<path d="M600.8 20.0 L602.6 22.4 L600.8 24.8 L599.0 22.4 Z" fill="#f4b8a8" stroke="#dc4630" stroke-width="1.2"/>
<path d="M605.9 21.5 L607.7 23.9 L605.9 26.3 L604.1 23.9 Z" fill="#f4b8a8" stroke="#dc4630" stroke-width="1.2"/>
<path d="M611.0 23.0 L612.8 25.4 L611.0 27.8 L609.2 25.4 Z" fill="#f4b8a8" stroke="#dc4630" stroke-width="1.2"/>
<path d="M616.0 24.9 L617.8 27.3 L616.0 29.7 L614.2 27.3 Z" fill="#f4b8a8" stroke="#dc4630" stroke-width="1.2"/>
<path d="M621.1 29.4 L622.9 31.8 L621.1 34.2 L619.3 31.8 Z" fill="#f4b8a8" stroke="#dc4630" stroke-width="1.2"/>
<path d="M626.1 37.5 L627.9 39.9 L626.1 42.3 L624.3 39.9 Z" fill="#f4b8a8" stroke="#dc4630" stroke-width="1.2"/>
<path d="M631.2 47.9 L633.0 50.3 L631.2 52.7 L629.4 50.3 Z" fill="#f4b8a8" stroke="#dc4630" stroke-width="1.2"/>
<path d="M636.3 53.9 L638.1 56.3 L636.3 58.7 L634.5 56.3 Z" fill="#f4b8a8" stroke="#dc4630" stroke-width="1.2"/>
<path d="M641.3 66.8 L643.1 69.2 L641.3 71.6 L639.5 69.2 Z" fill="#f4b8a8" stroke="#dc4630" stroke-width="1.2"/>
<path d="M646.4 76.6 L648.2 79.0 L646.4 81.4 L644.6 79.0 Z" fill="#f4b8a8" stroke="#dc4630" stroke-width="1.2"/>
<path d="M651.4 85.1 L653.2 87.5 L651.4 89.9 L649.6 87.5 Z" fill="#f4b8a8" stroke="#dc4630" stroke-width="1.2"/>
<path d="M656.5 90.9 L658.3 93.3 L656.5 95.7 L654.7 93.3 Z" fill="#f4b8a8" stroke="#dc4630" stroke-width="1.2"/>
<path d="M661.6 108.1 L663.4 110.5 L661.6 112.9 L659.8 110.5 Z" fill="#f4b8a8" stroke="#dc4630" stroke-width="1.2"/>
<path d="M666.6 122.2 L668.4 124.6 L666.6 127.0 L664.8 124.6 Z" fill="#f4b8a8" stroke="#dc4630" stroke-width="1.2"/>
<path d="M671.7 126.4 L673.5 128.8 L671.7 131.2 L669.9 128.8 Z" fill="#f4b8a8" stroke="#dc4630" stroke-width="1.2"/>
<path d="M676.7 133.2 L678.5 135.6 L676.7 138.0 L674.9 135.6 Z" fill="#f4b8a8" stroke="#dc4630" stroke-width="1.2"/>
<path d="M681.8 141.1 L683.6 143.5 L681.8 145.9 L680.0 143.5 Z" fill="#f4b8a8" stroke="#dc4630" stroke-width="1.2"/>
<path d="M686.9 146.9 L688.7 149.3 L686.9 151.7 L685.1 149.3 Z" fill="#f4b8a8" stroke="#dc4630" stroke-width="1.2"/>
<path d="M691.9 149.7 L693.7 152.1 L691.9 154.5 L690.1 152.1 Z" fill="#f4b8a8" stroke="#dc4630" stroke-width="1.2"/>
<path d="M697.0 152.5 L698.8 154.9 L697.0 157.3 L695.2 154.9 Z" fill="#f4b8a8" stroke="#dc4630" stroke-width="1.2"/>
<path d="M702.0 155.7 L703.8 158.1 L702.0 160.5 L700.2 158.1 Z" fill="#f4b8a8" stroke="#dc4630" stroke-width="1.2"/>
<path d="M707.1 161.6 L708.9 164.0 L707.1 166.4 L705.3 164.0 Z" fill="#f4b8a8" stroke="#dc4630" stroke-width="1.2"/>
<path d="M712.2 164.4 L714.0 166.8 L712.2 169.2 L710.4 166.8 Z" fill="#f4b8a8" stroke="#dc4630" stroke-width="1.2"/>
<path d="M717.2 167.8 L719.0 170.2 L717.2 172.6 L715.4 170.2 Z" fill="#f4b8a8" stroke="#dc4630" stroke-width="1.2"/>
<path d="M722.3 173.5 L724.1 175.9 L722.3 178.3 L720.5 175.9 Z" fill="#f4b8a8" stroke="#dc4630" stroke-width="1.2"/>
<path d="M727.3 173.5 L729.1 175.9 L727.3 178.3 L725.5 175.9 Z" fill="#f4b8a8" stroke="#dc4630" stroke-width="1.2"/>
<path d="M732.4 176.6 L734.2 179.0 L732.4 181.4 L730.6 179.0 Z" fill="#f4b8a8" stroke="#dc4630" stroke-width="1.2"/>
<line x1="491.2" y1="268.5" x2="491.2" y2="394.9" stroke="#5a5a5a" stroke-width="1"/>
<line x1="487.2" y1="394.9" x2="559.5" y2="394.9" stroke="#5a5a5a" stroke-width="1"/>
<line x1="487.7" y1="394.9" x2="491.2" y2="394.9" stroke="#5a5a5a" stroke-width="1"/>
<text x="480.7" y="398.2" font-size="9.3" fill="#333" stroke="#333" stroke-width="0.1" text-anchor="end" font-weight="normal" >0</text>
<line x1="487.7" y1="369.6" x2="491.2" y2="369.6" stroke="#5a5a5a" stroke-width="1"/>
<text x="480.7" y="372.94" font-size="9.3" fill="#333" stroke="#333" stroke-width="0.1" text-anchor="end" font-weight="normal" >1</text>
<line x1="487.7" y1="344.4" x2="491.2" y2="344.4" stroke="#5a5a5a" stroke-width="1"/>
<text x="480.7" y="347.68" font-size="9.3" fill="#333" stroke="#333" stroke-width="0.1" text-anchor="end" font-weight="normal" >2</text>
<line x1="487.7" y1="319.1" x2="491.2" y2="319.1" stroke="#5a5a5a" stroke-width="1"/>
<text x="480.7" y="322.42" font-size="9.3" fill="#333" stroke="#333" stroke-width="0.1" text-anchor="end" font-weight="normal" >3</text>
<line x1="487.7" y1="293.9" x2="491.2" y2="293.9" stroke="#5a5a5a" stroke-width="1"/>
<text x="480.7" y="297.15999999999997" font-size="9.3" fill="#333" stroke="#333" stroke-width="0.1" text-anchor="end" font-weight="normal" >4</text>
<line x1="487.7" y1="268.6" x2="491.2" y2="268.6" stroke="#5a5a5a" stroke-width="1"/>
<text x="480.7" y="271.9" font-size="9.3" fill="#333" stroke="#333" stroke-width="0.1" text-anchor="end" font-weight="normal" >5</text>
<line x1="510.4" y1="394.9" x2="510.4" y2="398.9" stroke="#5a5a5a" stroke-width="1"/>
<text x="0" y="0" font-size="11" fill="#333" stroke="#333" stroke-width="0.1" text-anchor="end" font-weight="normal" transform="translate(516.4 409.9) rotate(-45)">Control</text>
<line x1="539.4" y1="394.9" x2="539.4" y2="398.9" stroke="#5a5a5a" stroke-width="1"/>
<text x="0" y="0" font-size="11" fill="#333" stroke="#333" stroke-width="0.1" text-anchor="end" font-weight="normal" transform="translate(545.4 409.9) rotate(-45)">Dox</text>
<line x1="510.4" y1="298.9" x2="510.4" y2="379.2" stroke="#555" stroke-width="1"/>
<line x1="505.4" y1="298.9" x2="515.4" y2="298.9" stroke="#555" stroke-width="1"/>
<line x1="505.4" y1="379.2" x2="515.4" y2="379.2" stroke="#555" stroke-width="1"/>
<rect x="501.4" y="340.6" width="18" height="26.5" fill="#2a73ba" stroke="#1f5288" stroke-width="0.9"/>
<line x1="501.4" y1="356.5" x2="519.4" y2="356.5" stroke="#1f5288" stroke-width="1.2"/>
<line x1="539.4" y1="328.0" x2="539.4" y2="379.2" stroke="#555" stroke-width="1"/>
<line x1="534.4" y1="328.0" x2="544.4" y2="328.0" stroke="#555" stroke-width="1"/>
<line x1="534.4" y1="379.2" x2="544.4" y2="379.2" stroke="#555" stroke-width="1"/>
<rect x="530.4" y="355.0" width="18" height="15.9" fill="#e4262a" stroke="#9e1b1f" stroke-width="0.9"/>
<line x1="530.4" y1="363.3" x2="548.4" y2="363.3" stroke="#9e1b1f" stroke-width="1.2"/>
<path d="M510.4 270 L510.4 268.2 L539.4 268.2 L539.4 270" fill="none" stroke="#8a8a8a" stroke-width="1.2"/>
<polygon points="517.00,259.00 517.82,260.67 519.66,260.93 518.33,262.23 518.65,264.07 517.00,263.20 515.35,264.07 515.67,262.23 514.34,260.93 516.18,260.67" fill="#222"/>
<polygon points="522.50,259.00 523.32,260.67 525.16,260.93 523.83,262.23 524.15,264.07 522.50,263.20 520.85,264.07 521.17,262.23 519.84,260.93 521.68,260.67" fill="#222"/>
<polygon points="528.00,259.00 528.82,260.67 530.66,260.93 529.33,262.23 529.65,264.07 528.00,263.20 526.35,264.07 526.67,262.23 525.34,260.93 527.18,260.67" fill="#222"/>
<polygon points="533.50,259.00 534.32,260.67 536.16,260.93 534.83,262.23 535.15,264.07 533.50,263.20 531.85,264.07 532.17,262.23 530.84,260.93 532.68,260.67" fill="#222"/>
<circle cx="510.6" cy="297.5" r="1.9" fill="#2a73ba"/>
<circle cx="537.2" cy="301.2" r="1.9" fill="#e4262a"/>
<circle cx="541.9" cy="300.7" r="1.9" fill="#e4262a"/>
<circle cx="539.4" cy="306.3" r="1.9" fill="#e4262a"/>
<circle cx="531.5" cy="315.8" r="1.9" fill="#e4262a"/>
<circle cx="536.8" cy="318.2" r="1.9" fill="#e4262a"/>
<circle cx="541.9" cy="316.3" r="1.9" fill="#e4262a"/>
<circle cx="531.9" cy="325.2" r="1.9" fill="#e4262a"/>
<circle cx="536.8" cy="322.4" r="1.9" fill="#e4262a"/>
<circle cx="541.9" cy="323.3" r="1.9" fill="#e4262a"/>
<circle cx="547.5" cy="323.9" r="1.9" fill="#e4262a"/>
<text x="0" y="0" font-size="11" fill="#333" stroke="#333" stroke-width="0.1" text-anchor="middle" font-weight="normal" transform="translate(465.2 333.5) rotate(-90)" textLength="101.5" lengthAdjust="spacingAndGlyphs">Nucleolar area, μm<tspan dy="-4" font-size="6.5">2</tspan></text>
<line x1="609.4" y1="268.5" x2="609.4" y2="394.9" stroke="#5a5a5a" stroke-width="1"/>
<line x1="605.4" y1="394.9" x2="677" y2="394.9" stroke="#5a5a5a" stroke-width="1"/>
<line x1="605.9" y1="394.9" x2="609.4" y2="394.9" stroke="#5a5a5a" stroke-width="1"/>
<text x="598.9" y="398.2" font-size="9.3" fill="#333" stroke="#333" stroke-width="0.1" text-anchor="end" font-weight="normal" >0</text>
<line x1="605.9" y1="369.6" x2="609.4" y2="369.6" stroke="#5a5a5a" stroke-width="1"/>
<text x="598.9" y="372.94" font-size="9.3" fill="#333" stroke="#333" stroke-width="0.1" text-anchor="end" font-weight="normal" >1</text>
<line x1="605.9" y1="344.4" x2="609.4" y2="344.4" stroke="#5a5a5a" stroke-width="1"/>
<text x="598.9" y="347.68" font-size="9.3" fill="#333" stroke="#333" stroke-width="0.1" text-anchor="end" font-weight="normal" >2</text>
<line x1="605.9" y1="319.1" x2="609.4" y2="319.1" stroke="#5a5a5a" stroke-width="1"/>
<text x="598.9" y="322.42" font-size="9.3" fill="#333" stroke="#333" stroke-width="0.1" text-anchor="end" font-weight="normal" >3</text>
<line x1="605.9" y1="293.9" x2="609.4" y2="293.9" stroke="#5a5a5a" stroke-width="1"/>
<text x="598.9" y="297.15999999999997" font-size="9.3" fill="#333" stroke="#333" stroke-width="0.1" text-anchor="end" font-weight="normal" >4</text>
<line x1="605.9" y1="268.6" x2="609.4" y2="268.6" stroke="#5a5a5a" stroke-width="1"/>
<text x="598.9" y="271.9" font-size="9.3" fill="#333" stroke="#333" stroke-width="0.1" text-anchor="end" font-weight="normal" >5</text>
<line x1="628.6" y1="394.9" x2="628.6" y2="398.9" stroke="#5a5a5a" stroke-width="1"/>
<text x="0" y="0" font-size="11" fill="#333" stroke="#333" stroke-width="0.1" text-anchor="end" font-weight="normal" transform="translate(634.6 409.9) rotate(-45)">Control</text>
<line x1="657.6" y1="394.9" x2="657.6" y2="398.9" stroke="#5a5a5a" stroke-width="1"/>
<text x="0" y="0" font-size="11" fill="#333" stroke="#333" stroke-width="0.1" text-anchor="end" font-weight="normal" transform="translate(663.6 409.9) rotate(-45)">Dox</text>
<line x1="628.6" y1="283.8" x2="628.6" y2="345.6" stroke="#555" stroke-width="1"/>
<line x1="623.6" y1="283.8" x2="633.6" y2="283.8" stroke="#555" stroke-width="1"/>
<line x1="623.6" y1="345.6" x2="633.6" y2="345.6" stroke="#555" stroke-width="1"/>
<rect x="619.6" y="300.2" width="18" height="18.9" fill="#2a73ba" stroke="#1f5288" stroke-width="0.9"/>
<line x1="619.6" y1="309.0" x2="637.6" y2="309.0" stroke="#1f5288" stroke-width="1.2"/>
<line x1="657.6" y1="283.8" x2="657.6" y2="348.9" stroke="#555" stroke-width="1"/>
<line x1="652.6" y1="283.8" x2="662.6" y2="283.8" stroke="#555" stroke-width="1"/>
<line x1="652.6" y1="348.9" x2="662.6" y2="348.9" stroke="#555" stroke-width="1"/>
<rect x="648.6" y="305.2" width="18" height="17.7" fill="#e4262a" stroke="#9e1b1f" stroke-width="0.9"/>
<line x1="648.6" y1="310.3" x2="666.6" y2="310.3" stroke="#9e1b1f" stroke-width="1.2"/>
<path d="M628.6 270 L628.6 268.2 L657.6 268.2 L657.6 270" fill="none" stroke="#8a8a8a" stroke-width="1.2"/>
<text x="643.1" y="265" font-size="10.6" fill="#333" stroke="#333" stroke-width="0.1" text-anchor="middle" font-weight="normal" >n.s.</text>
<circle cx="657.7" cy="275.5" r="1.9" fill="#e4262a"/>
<text x="0" y="0" font-size="11" fill="#333" stroke="#333" stroke-width="0.1" text-anchor="middle" font-weight="normal" transform="translate(583.4 333.5) rotate(-90)" textLength="79" lengthAdjust="spacingAndGlyphs">Nuclear size, μm<tspan dy="-4" font-size="6.5">2</tspan></text>
<line x1="727.4" y1="268.5" x2="727.4" y2="394.9" stroke="#5a5a5a" stroke-width="1"/>
<line x1="723.4" y1="394.9" x2="794.5" y2="394.9" stroke="#5a5a5a" stroke-width="1"/>
<line x1="723.9" y1="394.9" x2="727.4" y2="394.9" stroke="#5a5a5a" stroke-width="1"/>
<text x="716.9" y="398.2" font-size="9.3" fill="#333" stroke="#333" stroke-width="0.1" text-anchor="end" font-weight="normal" >0</text>
<line x1="723.9" y1="369.6" x2="727.4" y2="369.6" stroke="#5a5a5a" stroke-width="1"/>
<text x="716.9" y="372.94" font-size="9.3" fill="#333" stroke="#333" stroke-width="0.1" text-anchor="end" font-weight="normal" >10</text>
<line x1="723.9" y1="344.4" x2="727.4" y2="344.4" stroke="#5a5a5a" stroke-width="1"/>
<text x="716.9" y="347.68" font-size="9.3" fill="#333" stroke="#333" stroke-width="0.1" text-anchor="end" font-weight="normal" >20</text>
<line x1="723.9" y1="319.1" x2="727.4" y2="319.1" stroke="#5a5a5a" stroke-width="1"/>
<text x="716.9" y="322.42" font-size="9.3" fill="#333" stroke="#333" stroke-width="0.1" text-anchor="end" font-weight="normal" >30</text>
<line x1="723.9" y1="293.9" x2="727.4" y2="293.9" stroke="#5a5a5a" stroke-width="1"/>
<text x="716.9" y="297.16" font-size="9.3" fill="#333" stroke="#333" stroke-width="0.1" text-anchor="end" font-weight="normal" >40</text>
<line x1="723.9" y1="268.6" x2="727.4" y2="268.6" stroke="#5a5a5a" stroke-width="1"/>
<text x="716.9" y="271.90000000000003" font-size="9.3" fill="#333" stroke="#333" stroke-width="0.1" text-anchor="end" font-weight="normal" >50</text>
<line x1="746.6" y1="394.9" x2="746.6" y2="398.9" stroke="#5a5a5a" stroke-width="1"/>
<text x="0" y="0" font-size="11" fill="#333" stroke="#333" stroke-width="0.1" text-anchor="end" font-weight="normal" transform="translate(752.6 409.9) rotate(-45)">Control</text>
<line x1="775.6" y1="394.9" x2="775.6" y2="398.9" stroke="#5a5a5a" stroke-width="1"/>
<text x="0" y="0" font-size="11" fill="#333" stroke="#333" stroke-width="0.1" text-anchor="end" font-weight="normal" transform="translate(781.6 409.9) rotate(-45)">Dox</text>
<line x1="746.6" y1="305.5" x2="746.6" y2="364.6" stroke="#555" stroke-width="1"/>
<line x1="741.6" y1="305.5" x2="751.6" y2="305.5" stroke="#555" stroke-width="1"/>
<line x1="741.6" y1="364.6" x2="751.6" y2="364.6" stroke="#555" stroke-width="1"/>
<rect x="737.6" y="328.7" width="18" height="15.9" fill="#2a73ba" stroke="#1f5288" stroke-width="0.9"/>
<line x1="737.6" y1="338.6" x2="755.6" y2="338.6" stroke="#1f5288" stroke-width="1.2"/>
<line x1="775.6" y1="305.2" x2="775.6" y2="364.6" stroke="#555" stroke-width="1"/>
<line x1="770.6" y1="305.2" x2="780.6" y2="305.2" stroke="#555" stroke-width="1"/>
<line x1="770.6" y1="364.6" x2="780.6" y2="364.6" stroke="#555" stroke-width="1"/>
<rect x="766.6" y="332.3" width="18" height="15.4" fill="#e4262a" stroke="#9e1b1f" stroke-width="0.9"/>
<line x1="766.6" y1="341.3" x2="784.6" y2="341.3" stroke="#9e1b1f" stroke-width="1.2"/>
<path d="M746.6 270 L746.6 268.2 L775.6 268.2 L775.6 270" fill="none" stroke="#8a8a8a" stroke-width="1.2"/>
<text x="761.1" y="265" font-size="10.6" fill="#333" stroke="#333" stroke-width="0.1" text-anchor="middle" font-weight="normal" >n.s.</text>
<circle cx="747.1" cy="287.9" r="1.9" fill="#2a73ba"/>
<circle cx="743.8" cy="294.4" r="1.9" fill="#2a73ba"/>
<circle cx="750.3" cy="292" r="1.9" fill="#2a73ba"/>
<circle cx="743.8" cy="300.8" r="1.9" fill="#2a73ba"/>
<circle cx="750.3" cy="299.5" r="1.9" fill="#2a73ba"/>
<circle cx="775.8" cy="298.5" r="1.9" fill="#e4262a"/>
<circle cx="768" cy="305.3" r="1.9" fill="#e4262a"/>
<circle cx="771.7" cy="305.3" r="1.9" fill="#e4262a"/>
<circle cx="775.5" cy="305.3" r="1.9" fill="#e4262a"/>
<circle cx="779.2" cy="305.3" r="1.9" fill="#e4262a"/>
<circle cx="783" cy="305.3" r="1.9" fill="#e4262a"/>
<text x="0" y="0" font-size="11" fill="#333" stroke="#333" stroke-width="0.1" text-anchor="middle" font-weight="normal" transform="translate(701.4 333.5) rotate(-90)" textLength="65" lengthAdjust="spacingAndGlyphs">Cell size, μm<tspan dy="-4" font-size="6.5">2</tspan></text>
<defs><filter id="bl" x="-20%" y="-20%" width="140%" height="140%"><feGaussianBlur stdDeviation="0.7"/></filter><filter id="bl2" x="-20%" y="-20%" width="140%" height="140%"><feGaussianBlur stdDeviation="1.6"/></filter></defs>
<svg x="1.4" y="472.8" width="72.1" height="57.19999999999999" overflow="hidden">
<rect width="72.1" height="57.19999999999999" fill="#7c7c7c"/>
<rect x="-22.2" y="8.3" width="51.9" height="40.9" rx="12.2" fill="none" stroke="#a4a4a4" stroke-width="2.4" filter="url(#bl2)"/>
<rect x="-20" y="10.5" width="47.5" height="36.5" rx="10" fill="#6e6e6e" stroke="#2e2e2e" stroke-width="2" filter="url(#bl)"/>
<rect x="-16.8" y="13.7" width="41.1" height="30.1" rx="7" fill="none" stroke="#8c8c8c" stroke-width="1.3" filter="url(#bl)"/>
<rect x="31.3" y="-32.2" width="41.9" height="55.9" rx="13.2" fill="none" stroke="#a4a4a4" stroke-width="2.4" filter="url(#bl2)"/>
<rect x="33.5" y="-30" width="37.5" height="51.5" rx="11" fill="#6e6e6e" stroke="#2e2e2e" stroke-width="2" filter="url(#bl)"/>
<rect x="36.7" y="-26.8" width="31.1" height="45.1" rx="8" fill="none" stroke="#8c8c8c" stroke-width="1.3" filter="url(#bl)"/>
<rect x="33.3" y="33.3" width="40.4" height="59.4" rx="13.2" fill="none" stroke="#a4a4a4" stroke-width="2.4" filter="url(#bl2)"/>
<rect x="35.5" y="35.5" width="36" height="55" rx="11" fill="#6e6e6e" stroke="#2e2e2e" stroke-width="2" filter="url(#bl)"/>
<rect x="38.7" y="38.7" width="29.6" height="48.6" rx="8" fill="none" stroke="#8c8c8c" stroke-width="1.3" filter="url(#bl)"/>
<circle cx="38.1" cy="30.399999999999977" r="12.9" fill="#686868" filter="url(#bl)"/>
<circle cx="38.1" cy="30.399999999999977" r="13.4" fill="none" stroke="#e6e6dc" stroke-width="1.4"/>
</svg>
<svg x="76.3" y="472.8" width="73.3" height="57.19999999999999" overflow="hidden">
<rect width="73.3" height="57.19999999999999" fill="#7c7c7c"/>
<rect x="-22.2" y="8.600000000000001" width="45.4" height="40.6" rx="12.2" fill="none" stroke="#a4a4a4" stroke-width="2.4" filter="url(#bl2)"/>
<rect x="-20" y="10.8" width="41" height="36.2" rx="10" fill="#6e6e6e" stroke="#2e2e2e" stroke-width="2" filter="url(#bl)"/>
<rect x="-16.8" y="14.0" width="34.6" height="29.800000000000004" rx="7" fill="none" stroke="#8c8c8c" stroke-width="1.3" filter="url(#bl)"/>
<rect x="26.6" y="-32.2" width="47.4" height="55.9" rx="13.2" fill="none" stroke="#a4a4a4" stroke-width="2.4" filter="url(#bl2)"/>
<rect x="28.8" y="-30" width="43" height="51.5" rx="11" fill="#6e6e6e" stroke="#2e2e2e" stroke-width="2" filter="url(#bl)"/>
<rect x="32.0" y="-26.8" width="36.6" height="45.1" rx="8" fill="none" stroke="#8c8c8c" stroke-width="1.3" filter="url(#bl)"/>
<rect x="28.3" y="35.8" width="47.4" height="59.4" rx="13.2" fill="none" stroke="#a4a4a4" stroke-width="2.4" filter="url(#bl2)"/>
<rect x="30.5" y="38" width="43" height="55" rx="11" fill="#6e6e6e" stroke="#2e2e2e" stroke-width="2" filter="url(#bl)"/>
<rect x="33.7" y="41.2" width="36.6" height="48.6" rx="8" fill="none" stroke="#8c8c8c" stroke-width="1.3" filter="url(#bl)"/>
<circle cx="34.900000000000006" cy="29.399999999999977" r="14.7" fill="#686868" filter="url(#bl)"/>
<circle cx="34.900000000000006" cy="29.399999999999977" r="15.2" fill="none" stroke="#e6e6dc" stroke-width="1.4"/>
</svg>
<svg x="152.1" y="473" width="73.9" height="57" overflow="hidden">
<rect width="73.9" height="57" fill="#7c7c7c"/>
<rect x="-22.2" y="8.399999999999999" width="43.4" height="40.6" rx="12.2" fill="none" stroke="#a4a4a4" stroke-width="2.4" filter="url(#bl2)"/>
<rect x="-20" y="10.6" width="39" height="36.2" rx="10" fill="#6e6e6e" stroke="#2e2e2e" stroke-width="2" filter="url(#bl)"/>
<rect x="-16.8" y="13.8" width="32.6" height="29.800000000000004" rx="7" fill="none" stroke="#8c8c8c" stroke-width="1.3" filter="url(#bl)"/>
<path d="M29.6 -5 L30.5 12 Q31 22 42 23 Q50 23 56 17 L76 -1 L76 -5 Z" fill="none" stroke="#a4a4a4" stroke-width="5" filter="url(#bl2)"/>
<path d="M29.6 -5 L30.5 12 Q31 22 42 23 Q50 23 56 17 L76 -1 L76 -5 Z" fill="#6e6e6e" stroke="#2e2e2e" stroke-width="2" filter="url(#bl)"/>
<path d="M30 80 L30 48 Q32 36 45 35 Q52 35 58 39 L76 52 L76 80 Z" fill="none" stroke="#a4a4a4" stroke-width="5" filter="url(#bl2)"/>
<path d="M30 80 L30 48 Q32 36 45 35 Q52 35 58 39 L76 52 L76 80 Z" fill="#6e6e6e" stroke="#2e2e2e" stroke-width="2" filter="url(#bl)"/>
<circle cx="33.599999999999994" cy="28.899999999999977" r="16.1" fill="#686868" filter="url(#bl)"/>
<circle cx="33.599999999999994" cy="28.899999999999977" r="16.6" fill="none" stroke="#e6e6dc" stroke-width="1.4"/>
</svg>
<svg x="228.2" y="473" width="72.2" height="57" overflow="hidden">
<rect width="72.2" height="57" fill="#7c7c7c"/>
<rect x="-22.2" y="8.399999999999999" width="42.6" height="37.199999999999996" rx="12.2" fill="none" stroke="#a4a4a4" stroke-width="2.4" filter="url(#bl2)"/>
<rect x="-20" y="10.6" width="38.2" height="32.8" rx="10" fill="#6e6e6e" stroke="#2e2e2e" stroke-width="2" filter="url(#bl)"/>
<rect x="-16.8" y="13.8" width="31.800000000000004" height="26.4" rx="7" fill="none" stroke="#8c8c8c" stroke-width="1.3" filter="url(#bl)"/>
<path d="M28.3 -5 L28.5 10 Q30 19.5 42 19.6 Q48 19.6 55 15 L74 -1 L74 -5 Z" fill="none" stroke="#a4a4a4" stroke-width="5" filter="url(#bl2)"/>
<path d="M28.3 -5 L28.5 10 Q30 19.5 42 19.6 Q48 19.6 55 15 L74 -1 L74 -5 Z" fill="#6e6e6e" stroke="#2e2e2e" stroke-width="2" filter="url(#bl)"/>
<path d="M29 80 L29.5 47 Q31 34 45 34 Q52 34 56 37 L74 52 L74 80 Z" fill="none" stroke="#a4a4a4" stroke-width="5" filter="url(#bl2)"/>
<path d="M29 80 L29.5 47 Q31 34 45 34 Q52 34 56 37 L74 52 L74 80 Z" fill="#6e6e6e" stroke="#2e2e2e" stroke-width="2" filter="url(#bl)"/>
<circle cx="34.0" cy="28.399999999999977" r="15.899999999999999" fill="#686868" filter="url(#bl)"/>
<circle cx="34.0" cy="28.399999999999977" r="16.4" fill="none" stroke="#e6e6dc" stroke-width="1.4"/>
</svg>
<text x="46.6" y="531.8" font-size="12" fill="#f4f4f4" stroke="#f4f4f4" stroke-width="0.1" text-anchor="start" font-weight="normal"  textLength="22.5" lengthAdjust="spacingAndGlyphs">5 μm</text>
<text x="4" y="536.5" font-size="11" fill="#d8d020" stroke="#d8d020" stroke-width="0.1" text-anchor="start" font-weight="normal" >1</text>
<text x="79" y="536.5" font-size="11" fill="#d8d020" stroke="#d8d020" stroke-width="0.1" text-anchor="start" font-weight="normal" >10</text>
<text x="155" y="536.5" font-size="11" fill="#d8d020" stroke="#d8d020" stroke-width="0.1" text-anchor="start" font-weight="normal" >15</text>
<text x="231" y="536.5" font-size="11" fill="#d8d020" stroke="#d8d020" stroke-width="0.1" text-anchor="start" font-weight="normal" >18 divisions</text>
<rect x="336.5" y="468" width="222.25" height="70" fill="#fff" stroke="#666" stroke-width="1"/>
<g shape-rendering="crispEdges">
<rect x="336.5" y="468.40" width="141.5" height="2.6" fill="#05ac4b"/>
<rect x="478.0" y="468.40" width="22.0" height="2.6" fill="#f7a81b"/>
<rect x="500.0" y="468.40" width="6.0" height="2.6" fill="#e8221a"/>
<rect x="336.5" y="471.00" width="79.5" height="2.6" fill="#05ac4b"/>
<rect x="416.0" y="471.00" width="74.0" height="2.6" fill="#f5f000"/>
<rect x="490.0" y="471.00" width="5.0" height="2.6" fill="#f7a81b"/>
<rect x="495.0" y="471.00" width="5.0" height="2.6" fill="#e8221a"/>
<rect x="336.5" y="471.70" width="68.5" height="1.3" fill="#92dca8"/>
<rect x="336.5" y="473.60" width="58.5" height="2.6" fill="#05ac4b"/>
<rect x="395.0" y="473.60" width="90.0" height="2.6" fill="#f5f000"/>
<rect x="485.0" y="473.60" width="10.0" height="2.6" fill="#e8221a"/>
<rect x="336.5" y="473.60" width="12" height="2.6" fill="#c0c0c0"/>
<rect x="336.5" y="474.30" width="30.5" height="1.3" fill="#92dca8"/>
<rect x="395.0" y="474.20" width="21.0" height="1.4" fill="#c4ea3c"/>
<rect x="336.5" y="476.20" width="109.5" height="2.6" fill="#05ac4b"/>
<rect x="446.0" y="476.20" width="18.0" height="2.6" fill="#f5f000"/>
<rect x="464.0" y="476.20" width="25.0" height="2.6" fill="#e8221a"/>
<rect x="336.5" y="476.20" width="12" height="2.6" fill="#c0c0c0"/>
<rect x="336.5" y="478.80" width="103.5" height="2.6" fill="#05ac4b"/>
<rect x="440.0" y="478.80" width="24.0" height="2.6" fill="#f5f000"/>
<rect x="464.0" y="478.80" width="25.0" height="2.6" fill="#e8221a"/>
<rect x="336.5" y="478.80" width="8" height="2.6" fill="#c0c0c0"/>
<rect x="336.5" y="479.50" width="36.5" height="1.3" fill="#92dca8"/>
<rect x="336.5" y="481.40" width="80.5" height="2.6" fill="#05ac4b"/>
<rect x="417.0" y="481.40" width="37.0" height="2.6" fill="#f5f000"/>
<rect x="454.0" y="481.40" width="10.0" height="2.6" fill="#f7a81b"/>
<rect x="464.0" y="481.40" width="10.0" height="2.6" fill="#e8221a"/>
<rect x="336.5" y="481.40" width="12" height="2.6" fill="#c0c0c0"/>
<rect x="417.0" y="482.00" width="13.0" height="1.4" fill="#c4ea3c"/>
<rect x="336.5" y="484.00" width="47.0" height="2.6" fill="#05ac4b"/>
<rect x="383.5" y="484.00" width="80.5" height="2.6" fill="#f5f000"/>
<rect x="464.0" y="484.00" width="10.0" height="2.6" fill="#e8221a"/>
<rect x="383.5" y="484.60" width="52.5" height="1.4" fill="#c4ea3c"/>
<rect x="336.5" y="486.60" width="83.5" height="2.6" fill="#05ac4b"/>
<rect x="420.0" y="486.60" width="30.0" height="2.6" fill="#f5f000"/>
<rect x="450.0" y="486.60" width="3.0" height="2.6" fill="#f7a81b"/>
<rect x="453.0" y="486.60" width="15.0" height="2.6" fill="#e8221a"/>
<rect x="336.5" y="486.60" width="4" height="2.6" fill="#c0c0c0"/>
<rect x="336.5" y="487.30" width="15.5" height="1.3" fill="#92dca8"/>
<rect x="336.5" y="489.20" width="83.5" height="2.6" fill="#05ac4b"/>
<rect x="420.0" y="489.20" width="46.0" height="2.6" fill="#f5f000"/>
<rect x="466.0" y="489.20" width="3.0" height="2.6" fill="#e8221a"/>
<rect x="336.5" y="491.80" width="99.5" height="2.6" fill="#05ac4b"/>
<rect x="436.0" y="491.80" width="19.0" height="2.6" fill="#f5f000"/>
<rect x="455.0" y="491.80" width="10.0" height="2.6" fill="#f7a81b"/>
<rect x="336.5" y="494.40" width="61.5" height="2.6" fill="#05ac4b"/>
<rect x="398.0" y="494.40" width="33.0" height="2.6" fill="#f5f000"/>
<rect x="431.0" y="494.40" width="28.0" height="2.6" fill="#f7a81b"/>
<rect x="459.0" y="494.40" width="4.0" height="2.6" fill="#e8221a"/>
<rect x="336.5" y="497.00" width="52.0" height="2.6" fill="#05ac4b"/>
<rect x="388.5" y="497.00" width="70.5" height="2.6" fill="#f5f000"/>
<rect x="459.0" y="497.00" width="3.5" height="2.6" fill="#e8221a"/>
<rect x="336.5" y="497.70" width="23.5" height="1.3" fill="#92dca8"/>
<rect x="388.5" y="497.60" width="16.5" height="1.4" fill="#c4ea3c"/>
<rect x="336.5" y="499.60" width="48.2" height="2.6" fill="#05ac4b"/>
<rect x="384.8" y="499.60" width="57.8" height="2.6" fill="#f5f000"/>
<rect x="442.5" y="499.60" width="15.0" height="2.6" fill="#e8221a"/>
<rect x="336.5" y="499.60" width="14" height="2.6" fill="#c0c0c0"/>
<rect x="336.5" y="500.30" width="15.5" height="1.3" fill="#92dca8"/>
<rect x="384.8" y="500.20" width="13.2" height="1.4" fill="#c4ea3c"/>
<rect x="336.5" y="502.20" width="59.5" height="2.6" fill="#05ac4b"/>
<rect x="396.0" y="502.20" width="15.0" height="2.6" fill="#f5f000"/>
<rect x="411.0" y="502.20" width="15.0" height="2.6" fill="#f7a81b"/>
<rect x="426.0" y="502.20" width="26.5" height="2.6" fill="#e8221a"/>
<rect x="336.5" y="502.20" width="14" height="2.6" fill="#c0c0c0"/>
<rect x="336.5" y="504.80" width="104.5" height="2.6" fill="#05ac4b"/>
<rect x="441.0" y="504.80" width="4.0" height="2.6" fill="#f5f000"/>
<rect x="445.0" y="504.80" width="3.0" height="2.6" fill="#f7a81b"/>
<rect x="448.0" y="504.80" width="4.0" height="2.6" fill="#e8221a"/>
<rect x="352.0" y="505.40" width="74.0" height="1.4" fill="#c4ea3c"/>
<rect x="336.5" y="507.40" width="78.2" height="2.6" fill="#05ac4b"/>
<rect x="414.8" y="507.40" width="15.2" height="2.6" fill="#f5f000"/>
<rect x="430.0" y="507.40" width="7.5" height="2.6" fill="#f7a81b"/>
<rect x="437.5" y="507.40" width="13.5" height="2.6" fill="#e8221a"/>
<rect x="336.5" y="508.10" width="20.5" height="1.3" fill="#92dca8"/>
<rect x="336.5" y="510.00" width="53.2" height="2.6" fill="#05ac4b"/>
<rect x="389.8" y="510.00" width="36.2" height="2.6" fill="#f5f000"/>
<rect x="426.0" y="510.00" width="11.5" height="2.6" fill="#f7a81b"/>
<rect x="437.5" y="510.00" width="15.0" height="2.6" fill="#e8221a"/>
<rect x="336.5" y="510.70" width="21.5" height="1.3" fill="#92dca8"/>
<rect x="389.8" y="510.60" width="15.2" height="1.4" fill="#c4ea3c"/>
<rect x="336.5" y="512.60" width="64.5" height="2.6" fill="#05ac4b"/>
<rect x="401.0" y="512.60" width="14.0" height="2.6" fill="#f5f000"/>
<rect x="415.0" y="512.60" width="11.0" height="2.6" fill="#f7a81b"/>
<rect x="426.0" y="512.60" width="21.5" height="2.6" fill="#e8221a"/>
<rect x="336.5" y="515.20" width="58.2" height="2.6" fill="#05ac4b"/>
<rect x="394.8" y="515.20" width="31.2" height="2.6" fill="#f5f000"/>
<rect x="426.0" y="515.20" width="21.5" height="2.6" fill="#e8221a"/>
<rect x="336.5" y="515.20" width="5" height="2.6" fill="#c0c0c0"/>
<rect x="394.8" y="515.80" width="21.2" height="1.4" fill="#c4ea3c"/>
<rect x="336.5" y="517.80" width="79.5" height="2.6" fill="#05ac4b"/>
<rect x="416.0" y="517.80" width="31.0" height="2.6" fill="#f5f000"/>
<rect x="336.5" y="517.80" width="5" height="2.6" fill="#c0c0c0"/>
<rect x="336.5" y="520.40" width="68.2" height="2.6" fill="#05ac4b"/>
<rect x="404.8" y="520.40" width="35.2" height="2.6" fill="#f5f000"/>
<rect x="440.0" y="520.40" width="7.0" height="2.6" fill="#f7a81b"/>
<rect x="336.5" y="520.40" width="5" height="2.6" fill="#c0c0c0"/>
<rect x="336.5" y="523.00" width="69.5" height="2.6" fill="#05ac4b"/>
<rect x="406.0" y="523.00" width="41.0" height="2.6" fill="#f5f000"/>
<rect x="336.5" y="523.00" width="5" height="2.6" fill="#c0c0c0"/>
<rect x="336.5" y="525.60" width="73.5" height="2.6" fill="#05ac4b"/>
<rect x="410.0" y="525.60" width="30.0" height="2.6" fill="#f5f000"/>
<rect x="440.0" y="525.60" width="6.0" height="2.6" fill="#f7a81b"/>
<rect x="336.5" y="525.60" width="5" height="2.6" fill="#c0c0c0"/>
<rect x="336.5" y="528.20" width="75.5" height="2.6" fill="#05ac4b"/>
<rect x="412.0" y="528.20" width="35.0" height="2.6" fill="#f5f000"/>
<rect x="336.5" y="528.20" width="5" height="2.6" fill="#c0c0c0"/>
<rect x="336.5" y="530.80" width="73.5" height="2.6" fill="#05ac4b"/>
<rect x="410.0" y="530.80" width="37.0" height="2.6" fill="#f5f000"/>
<rect x="336.5" y="530.80" width="5" height="2.6" fill="#c0c0c0"/>
</g>
<line x1="336.5" y1="468" x2="558.75" y2="468" stroke="#555" stroke-width="1"/>
<rect x="572.75" y="468" width="222.75" height="70" fill="#fff" stroke="#666" stroke-width="1"/>
<g shape-rendering="crispEdges">
<rect x="572.75" y="468.40" width="168.2" height="2.6" fill="#05ac4b"/>
<rect x="741.0" y="468.40" width="9.0" height="2.6" fill="#f7a81b"/>
<rect x="750.0" y="468.40" width="27.0" height="2.6" fill="#e8221a"/>
<rect x="572.75" y="468.40" width="10" height="2.6" fill="#c0c0c0"/>
<rect x="572.75" y="471.00" width="142.8" height="2.6" fill="#05ac4b"/>
<rect x="715.5" y="471.00" width="21.0" height="2.6" fill="#f5f000"/>
<rect x="736.5" y="471.00" width="9.0" height="2.6" fill="#f7a81b"/>
<rect x="745.5" y="471.00" width="11.2" height="2.6" fill="#e8221a"/>
<rect x="572.75" y="471.00" width="24" height="2.6" fill="#c0c0c0"/>
<rect x="572.75" y="471.70" width="47.2" height="1.3" fill="#92dca8"/>
<rect x="572.75" y="473.60" width="120.2" height="2.6" fill="#05ac4b"/>
<rect x="693.0" y="473.60" width="42.0" height="2.6" fill="#f5f000"/>
<rect x="735.0" y="473.60" width="6.8" height="2.6" fill="#f7a81b"/>
<rect x="572.75" y="473.60" width="24" height="2.6" fill="#c0c0c0"/>
<rect x="693.0" y="474.20" width="42.0" height="1.4" fill="#c4ea3c"/>
<rect x="572.75" y="476.20" width="131.2" height="2.6" fill="#05ac4b"/>
<rect x="704.0" y="476.20" width="34.0" height="2.6" fill="#f5f000"/>
<rect x="572.75" y="476.20" width="20" height="2.6" fill="#c0c0c0"/>
<rect x="572.75" y="478.80" width="99.2" height="2.6" fill="#05ac4b"/>
<rect x="672.0" y="478.80" width="63.0" height="2.6" fill="#f5f000"/>
<rect x="572.75" y="479.50" width="78.2" height="1.3" fill="#92dca8"/>
<rect x="672.0" y="479.40" width="33.0" height="1.4" fill="#c4ea3c"/>
<rect x="572.75" y="481.40" width="127.2" height="2.6" fill="#05ac4b"/>
<rect x="700.0" y="481.40" width="35.0" height="2.6" fill="#f5f000"/>
<rect x="572.75" y="484.00" width="94.0" height="2.6" fill="#05ac4b"/>
<rect x="666.8" y="484.00" width="42.8" height="2.6" fill="#f5f000"/>
<rect x="709.5" y="484.00" width="4.5" height="2.6" fill="#f7a81b"/>
<rect x="714.0" y="484.00" width="16.5" height="2.6" fill="#e8221a"/>
<rect x="572.75" y="484.00" width="13" height="2.6" fill="#c0c0c0"/>
<rect x="572.75" y="484.70" width="62.2" height="1.3" fill="#92dca8"/>
<rect x="666.8" y="484.60" width="42.8" height="1.4" fill="#c4ea3c"/>
<rect x="572.75" y="486.60" width="105.2" height="2.6" fill="#05ac4b"/>
<rect x="678.0" y="486.60" width="19.5" height="2.6" fill="#f5f000"/>
<rect x="697.5" y="486.60" width="13.5" height="2.6" fill="#f7a81b"/>
<rect x="711.0" y="486.60" width="13.5" height="2.6" fill="#e8221a"/>
<rect x="572.75" y="486.60" width="10" height="2.6" fill="#c0c0c0"/>
<rect x="572.75" y="489.20" width="109.8" height="2.6" fill="#05ac4b"/>
<rect x="682.5" y="489.20" width="19.5" height="2.6" fill="#f5f000"/>
<rect x="702.0" y="489.20" width="21.0" height="2.6" fill="#f7a81b"/>
<rect x="572.75" y="489.20" width="10" height="2.6" fill="#c0c0c0"/>
<rect x="572.75" y="491.80" width="114.2" height="2.6" fill="#05ac4b"/>
<rect x="687.0" y="491.80" width="13.0" height="2.6" fill="#f5f000"/>
<rect x="700.0" y="491.80" width="14.0" height="2.6" fill="#f7a81b"/>
<rect x="714.0" y="491.80" width="10.5" height="2.6" fill="#e8221a"/>
<rect x="572.75" y="492.50" width="35.2" height="1.3" fill="#92dca8"/>
<rect x="572.75" y="494.40" width="103.8" height="2.6" fill="#05ac4b"/>
<rect x="676.5" y="494.40" width="28.5" height="2.6" fill="#f5f000"/>
<rect x="705.0" y="494.40" width="15.0" height="2.6" fill="#f7a81b"/>
<rect x="572.75" y="494.40" width="6" height="2.6" fill="#c0c0c0"/>
<rect x="572.75" y="495.10" width="20.2" height="1.3" fill="#92dca8"/>
<rect x="676.5" y="495.00" width="18.5" height="1.4" fill="#c4ea3c"/>
<rect x="572.75" y="497.00" width="104.8" height="2.6" fill="#05ac4b"/>
<rect x="677.5" y="497.00" width="37.5" height="2.6" fill="#f5f000"/>
<rect x="715.0" y="497.00" width="10.0" height="2.6" fill="#e8221a"/>
<rect x="572.75" y="497.00" width="6" height="2.6" fill="#c0c0c0"/>
<rect x="677.5" y="497.60" width="12.5" height="1.4" fill="#c4ea3c"/>
<rect x="572.75" y="499.60" width="99.8" height="2.6" fill="#05ac4b"/>
<rect x="672.5" y="499.60" width="47.5" height="2.6" fill="#f5f000"/>
<rect x="672.5" y="500.20" width="15.0" height="1.4" fill="#c4ea3c"/>
<rect x="572.75" y="502.20" width="109.8" height="2.6" fill="#05ac4b"/>
<rect x="682.5" y="502.20" width="37.5" height="2.6" fill="#f5f000"/>
<rect x="682.5" y="502.80" width="9.5" height="1.4" fill="#c4ea3c"/>
<rect x="572.75" y="504.80" width="94.8" height="2.6" fill="#05ac4b"/>
<rect x="667.5" y="504.80" width="37.5" height="2.6" fill="#f5f000"/>
<rect x="705.0" y="504.80" width="15.0" height="2.6" fill="#f7a81b"/>
<rect x="572.75" y="504.80" width="15" height="2.6" fill="#c0c0c0"/>
<rect x="572.75" y="505.50" width="41.2" height="1.3" fill="#92dca8"/>
<rect x="667.5" y="505.40" width="20.0" height="1.4" fill="#c4ea3c"/>
<rect x="572.75" y="507.40" width="114.8" height="2.6" fill="#05ac4b"/>
<rect x="687.5" y="507.40" width="27.5" height="2.6" fill="#f5f000"/>
<rect x="715.0" y="507.40" width="5.0" height="2.6" fill="#e8221a"/>
<rect x="572.75" y="507.40" width="15" height="2.6" fill="#c0c0c0"/>
<rect x="572.75" y="510.00" width="89.8" height="2.6" fill="#05ac4b"/>
<rect x="662.5" y="510.00" width="25.0" height="2.6" fill="#f5f000"/>
<rect x="687.5" y="510.00" width="21.2" height="2.6" fill="#f7a81b"/>
<rect x="708.8" y="510.00" width="5.0" height="2.6" fill="#e8221a"/>
<rect x="572.75" y="510.00" width="15" height="2.6" fill="#c0c0c0"/>
<rect x="662.5" y="510.60" width="10.0" height="1.4" fill="#c4ea3c"/>
<rect x="572.75" y="512.60" width="83.2" height="2.6" fill="#05ac4b"/>
<rect x="656.0" y="512.60" width="44.0" height="2.6" fill="#f5f000"/>
<rect x="700.0" y="512.60" width="14.0" height="2.6" fill="#f7a81b"/>
<rect x="572.75" y="512.60" width="15" height="2.6" fill="#c0c0c0"/>
<rect x="572.75" y="513.30" width="41.2" height="1.3" fill="#92dca8"/>
<rect x="656.0" y="513.20" width="31.5" height="1.4" fill="#c4ea3c"/>
<rect x="572.75" y="515.20" width="98.2" height="2.6" fill="#05ac4b"/>
<rect x="671.0" y="515.20" width="29.0" height="2.6" fill="#f5f000"/>
<rect x="700.0" y="515.20" width="9.0" height="2.6" fill="#f7a81b"/>
<rect x="709.0" y="515.20" width="5.0" height="2.6" fill="#e8221a"/>
<rect x="572.75" y="515.20" width="15" height="2.6" fill="#c0c0c0"/>
<rect x="572.75" y="517.80" width="99.8" height="2.6" fill="#05ac4b"/>
<rect x="672.5" y="517.80" width="40.5" height="2.6" fill="#f5f000"/>
<rect x="572.75" y="517.80" width="15" height="2.6" fill="#c0c0c0"/>
<rect x="672.5" y="518.40" width="20.0" height="1.4" fill="#c4ea3c"/>
<rect x="572.75" y="520.40" width="104.8" height="2.6" fill="#05ac4b"/>
<rect x="677.5" y="520.40" width="22.5" height="2.6" fill="#f5f000"/>
<rect x="700.0" y="520.40" width="9.0" height="2.6" fill="#f7a81b"/>
<rect x="709.0" y="520.40" width="5.0" height="2.6" fill="#e8221a"/>
<rect x="572.75" y="520.40" width="15" height="2.6" fill="#c0c0c0"/>
<rect x="572.75" y="523.00" width="104.8" height="2.6" fill="#05ac4b"/>
<rect x="677.5" y="523.00" width="14.5" height="2.6" fill="#f5f000"/>
<rect x="692.0" y="523.00" width="11.8" height="2.6" fill="#f7a81b"/>
<rect x="703.8" y="523.00" width="10.0" height="2.6" fill="#e8221a"/>
<rect x="572.75" y="523.00" width="15" height="2.6" fill="#c0c0c0"/>
<rect x="572.75" y="525.60" width="99.2" height="2.6" fill="#05ac4b"/>
<rect x="672.0" y="525.60" width="42.0" height="2.6" fill="#f5f000"/>
<rect x="572.75" y="525.60" width="15" height="2.6" fill="#c0c0c0"/>
<rect x="572.75" y="528.20" width="102.2" height="2.6" fill="#05ac4b"/>
<rect x="675.0" y="528.20" width="30.0" height="2.6" fill="#f5f000"/>
<rect x="705.0" y="528.20" width="9.0" height="2.6" fill="#e8221a"/>
<rect x="572.75" y="528.20" width="15" height="2.6" fill="#c0c0c0"/>
<rect x="572.75" y="530.80" width="102.2" height="2.6" fill="#05ac4b"/>
<rect x="675.0" y="530.80" width="39.0" height="2.6" fill="#f5f000"/>
<rect x="572.75" y="530.80" width="15" height="2.6" fill="#c0c0c0"/>
</g>
<line x1="572.75" y1="468" x2="795.5" y2="468" stroke="#555" stroke-width="1"/>
<text x="521.7" y="519.7" font-size="10.5" fill="#333" stroke="#333" stroke-width="0.1" text-anchor="middle" font-weight="normal" >Control</text>
<text x="764.7" y="519.5" font-size="10.5" fill="#333" stroke="#333" stroke-width="0.1" text-anchor="middle" font-weight="normal" >Dox</text>
<rect x="498.75" y="525.9" width="39.75" height="10" fill="#c8c8c8"/>
<rect x="744.8" y="526.2" width="39.5" height="10" fill="#c8c8c8"/>
<text x="518.6" y="535.6" font-size="10.5" fill="#222" stroke="#222" stroke-width="0.1" text-anchor="middle" font-weight="normal" >1.5</text>
<text x="764.5" y="535.8" font-size="10.5" fill="#222" stroke="#222" stroke-width="0.1" text-anchor="middle" font-weight="normal" >1.5</text>
<text x="0" y="0" font-size="11" fill="#333" stroke="#333" stroke-width="0.1" text-anchor="end" font-weight="normal" transform="translate(329.6 521.8) rotate(-90)">Lineages</text>
</svg>
</body></html>
